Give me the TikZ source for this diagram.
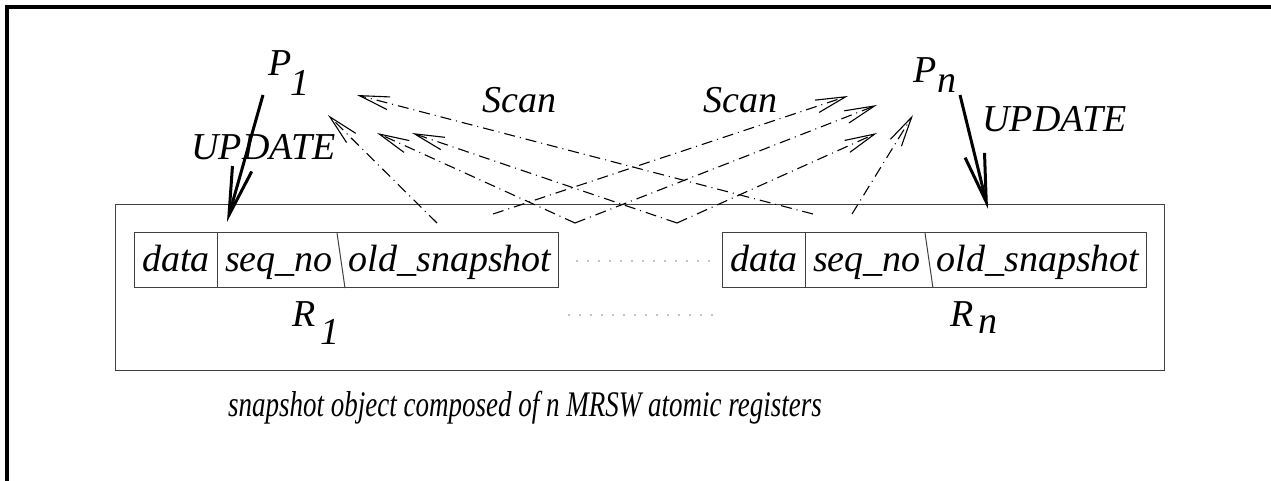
\documentclass[tikz,border=0pt]{standalone}
\usepackage{fontspec}
\setmainfont{Liberation Serif}
\newfontfamily\figfont{Liberation Serif}
\usetikzlibrary{arrows.meta, positioning, calc}

\begin{document}
\begin{tikzpicture}[x=0.5pt, y=-0.5pt,
    lbl/.style={inner sep=0pt, anchor=base west, font=\figfont\fontsize{19}{21}\selectfont\itshape},
    caption text/.style={inner sep=0pt, anchor=base, font=\figfont\fontsize{18}{20}\selectfont\itshape},
    reg/.style={draw=black!75, line width=0.5pt},
    dots/.style={line width=0.6pt, line cap=round, dash pattern=on 0pt off 5.5pt},
    scan/.style={line width=0.55pt, dash pattern=on 5.5pt off 2.5pt on 0.5pt off 2.5pt,
        -{Straight Barb[length=15pt, width=6.5pt]}},
    upd/.style={line width=1.5pt, -{Straight Barb[length=24pt, width=10pt]}}]
    \useasboundingbox (0,0) rectangle (1271,481);
    % page frame
    \draw[line width=1.7pt] (7,481) -- (7,7) -- (1271,7);
    % snapshot object
    \draw[reg] (115,205) rectangle (1164,370);
    \foreach \x/\i in {134/1, 722/n} {
        \draw[reg] (\x,233) rectangle (\x+424,288);
        \draw[reg] (\x+83,233) -- (\x+83,288);
        \draw[reg] (\x+203,233) -- (\x+211,288);
        \node[lbl, anchor=base] (data\i) at (\x+42,271) {data};
        \node[lbl, anchor=base] (seq\i) at (\x+145,271) {seq\_no};
        \node[lbl, anchor=base] (old\i) at (\x+316,271) {old\_snapshot};
    }
    \draw[dots] (577,261) -- (712,261);
    \draw[dots] (569,315) -- (722,315);
    % register names
    \node[lbl] (r1) at (292,327) {R};
    \node[lbl] (r1sub) at ($(r1.base east)+(4,17)$) {1};
    \node[lbl] (rn) at (950,327) {R};
    \node[lbl] (rnsub) at ($(rn.base east)+(4,7)$) {n};
    % processes
    \node[lbl] (p1) at (268,76) {P};
    \node[lbl] (p1sub) at ($(p1.base east)+(-2,20)$) {1};
    \node[lbl] (pn) at (913,83) {P};
    \node[lbl] (pnsub) at ($(pn.base east)+(0,10)$) {n};
    \node[lbl] (upd1) at (191,160) {UPDATE};
    \node[lbl] (updn) at (982,132) {UPDATE};
    \node[lbl] (scan1) at (482,113) {Scan};
    \node[lbl] (scann) at (703,113) {Scan};
    \node[caption text] (caption) at (525,416) {\scalebox{0.75}[1]{snapshot object composed of n MRSW atomic registers}};
    % arrow ends
    \coordinate (u1) at (263,95);
    \coordinate (w1) at (227,222);
    \coordinate (un) at (960,95);
    \coordinate (wn) at (988,209);
    \coordinate (s1) at (437,223);
    \coordinate (s2) at (493,214);
    \coordinate (s3) at (575,223);
    \coordinate (s4) at (677,223);
    \coordinate (s5) at (813,214);
    \coordinate (s6) at (852,214);
    \coordinate (h1) at (357,95);
    \coordinate (h2) at (328,115);
    \coordinate (h3) at (377,133);
    \coordinate (h4) at (412,133);
    \coordinate (k1) at (848,96);
    \coordinate (k2) at (877,105);
    \coordinate (k3) at (877,133);
    \coordinate (k4) at (913,115);
    % updates
    \draw[upd] (u1) -- (w1);
    \draw[upd] (un) -- (wn);
    % scans
    \draw[scan] (s5) -- (h1);
    \draw[scan] (s1) -- (h2);
    \draw[scan] (s3) -- (h3);
    \draw[scan] (s4) -- (h4);
    \draw[scan] (s2) -- (k1);
    \draw[scan] (s3) -- (k2);
    \draw[scan] (s4) -- (k3);
    \draw[scan] (s6) -- (k4);
\end{tikzpicture}
\end{document}
